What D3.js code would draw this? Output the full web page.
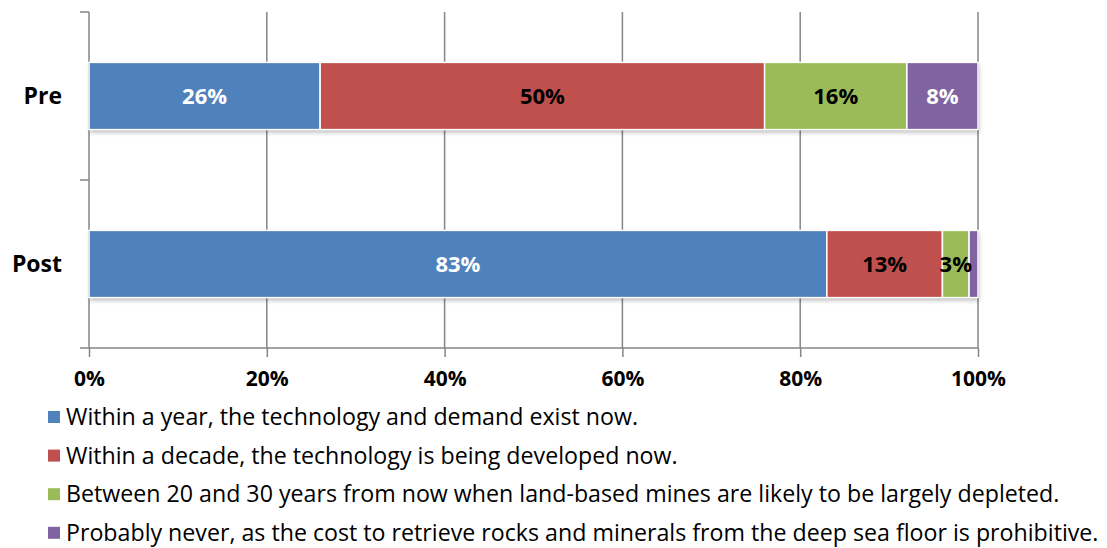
<!DOCTYPE html>
<html>
<head>
<meta charset="utf-8">
<script src="https://cdn.jsdelivr.net/npm/d3@7"></script>
<style>
  body { margin: 0; background: #fff; }
  text { font-family: "Open Sans", "Noto Sans", sans-serif; }
</style>
</head>
<body>
<div id="chart"></div>
<script>
const categories = ['Pre', 'Post'];
const seriesNames = [
  'Within a year, the technology and demand exist now.',
  'Within a decade, the technology is being developed now.',
  'Between 20 and 30 years from now when land-based mines are likely to be largely depleted.',
  'Probably never, as the cost to retrieve rocks and minerals from the deep sea floor is prohibitive.'
];
const preValues = [26, 50, 16, 8];
const postValues = [83, 13, 3, 1];
const tickValues = [0, 20, 40, 60, 80, 100];

const colors = ['#4f81bd', '#c0504d', '#9bbb59', '#8064a2'];
const labelColors = ['#fff', '#000', '#000', '#fff'];

const width = 1107, height = 548;
const svg = d3.select('#chart').append('svg')
  .attr('width', width)
  .attr('height', height);

const defs = svg.append('defs');
const f = defs.append('filter').attr('id', 'shadow')
  .attr('x', '-5%').attr('y', '-20%').attr('width', '110%').attr('height', '150%');
f.append('feDropShadow')
  .attr('dx', 1).attr('dy', 3).attr('stdDeviation', 2)
  .attr('flood-color', '#000').attr('flood-opacity', 0.25);

const x = d3.scaleLinear().domain([0, 100]).range([89, 978]);
const y = d3.scaleBand().domain(categories).range([12, 348]);
const barH = y.bandwidth() * 0.4;
const barY = c => y(c) + (y.bandwidth() - barH) / 2;

// gridlines
svg.append('g')
  .selectAll('line')
  .data(tickValues.slice(1))
  .join('line')
  .attr('x1', d => x(d)).attr('x2', d => x(d))
  .attr('y1', 12).attr('y2', 348)
  .attr('stroke', '#868686').attr('stroke-width', 1.5);

// x axis
const xAxis = svg.append('g')
  .attr('transform', 'translate(0,348)')
  .call(d3.axisBottom(x).tickValues(tickValues).tickFormat(d => d + '%').tickSize(9).tickSizeOuter(0).tickPadding(14));
xAxis.select('.domain').attr('stroke', '#868686').attr('stroke-width', 1.5)
  .attr('d', 'M80,0H' + x(100));
xAxis.selectAll('.tick line').attr('stroke', '#868686').attr('stroke-width', 1.5);
xAxis.selectAll('.tick text')
  .attr('font-size', 21).attr('font-weight', 'bold').attr('fill', '#000')
  .style('font-family', '"Open Sans", sans-serif');

// y axis line and ticks
const yg = svg.append('g');
yg.append('line').attr('x1', 89).attr('x2', 89).attr('y1', 12).attr('y2', 348)
  .attr('stroke', '#868686').attr('stroke-width', 1.5);
yg.selectAll('.yt').data(categories).join('line').attr('class', 'yt')
  .attr('x1', 80).attr('x2', 89).attr('y1', d => y(d)).attr('y2', d => y(d))
  .attr('stroke', '#868686').attr('stroke-width', 1.5);
yg.selectAll('text').data(categories).join('text')
  .attr('x', 62).attr('y', d => y(d) + y.bandwidth() / 2)
  .attr('dy', '0.35em').attr('text-anchor', 'end')
  .attr('font-size', 23).attr('font-weight', 'bold')
  .text(d => d);

// stacked bars
const rows = categories.map((c, i) => {
  const vals = i === 0 ? preValues : postValues;
  let acc = 0;
  return vals.map((v, k) => {
    const s = { cat: c, k, v, x0: acc, x1: acc + v };
    acc += v;
    return s;
  });
});

const barG = svg.append('g');
rows.forEach(segs => {
  const g = barG.append('g');
  g.append('rect')
    .attr('x', x(0)).attr('width', x(100) - x(0))
    .attr('y', barY(segs[0].cat)).attr('height', barH)
    .attr('fill', '#fff').attr('filter', 'url(#shadow)');
  g.selectAll('rect.seg').data(segs).join('rect').attr('class', 'seg')
    .attr('x', d => x(d.x0)).attr('width', d => x(d.x1) - x(d.x0))
    .attr('y', d => barY(d.cat)).attr('height', barH)
    .attr('fill', d => colors[d.k])
    .attr('stroke', '#fff').attr('stroke-width', 1.5);
  g.selectAll('text').data(segs.filter(d => d.v >= 2)).join('text')
    .attr('x', d => (x(d.x0) + x(d.x1)) / 2)
    .attr('y', d => barY(d.cat) + barH / 2)
    .attr('dy', '0.35em').attr('text-anchor', 'middle')
    .attr('font-size', 22).attr('font-weight', 'bold')
    .attr('fill', d => labelColors[d.k])
    .text(d => d.v + '%');
});

// legend
const legend = svg.append('g');
const lg = legend.selectAll('g').data(seriesNames).join('g')
  .attr('transform', (d, i) => `translate(48,${417 + i * 38.6})`);
lg.append('rect').attr('x', 0).attr('y', -6).attr('width', 12).attr('height', 12)
  .attr('fill', (d, i) => colors[i]);
lg.append('text').attr('x', 18).attr('dy', '0.35em')
  .attr('font-size', 23.2).attr('fill', '#000')
  .text(d => d);
</script>
</body>
</html>
